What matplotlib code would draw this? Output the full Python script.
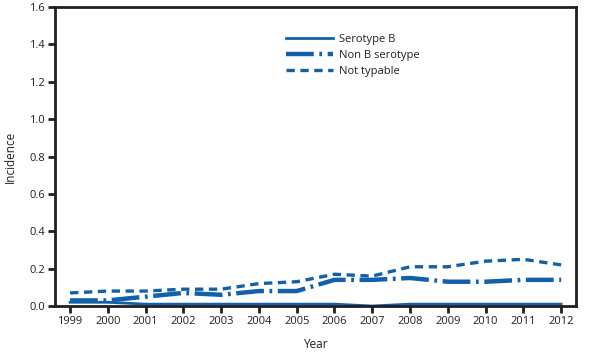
import matplotlib
matplotlib.use("Agg")
import matplotlib.pyplot as plt

years = [1999, 2000, 2001, 2002, 2003, 2004, 2005, 2006, 2007, 2008, 2009, 2010, 2011, 2012]
serotype_b = [0.02, 0.02, 0.01, 0.01, 0.01, 0.01, 0.01, 0.01, 0.00, 0.01, 0.01, 0.01, 0.01, 0.01]
non_b = [0.03, 0.03, 0.05, 0.07, 0.06, 0.08, 0.08, 0.14, 0.14, 0.15, 0.13, 0.13, 0.14, 0.14]
not_typable = [0.07, 0.08, 0.08, 0.09, 0.09, 0.12, 0.13, 0.17, 0.16, 0.21, 0.21, 0.24, 0.25, 0.22]
yticks = [0.0, 0.2, 0.4, 0.6, 0.8, 1.0, 1.2, 1.4, 1.6]

plt.rcParams['font.family'] = ['Open Sans', 'DejaVu Sans']
plt.rcParams['lines.scale_dashes'] = False
color = '#1060aa'

fig = plt.figure(figsize=(5.91, 3.55), dpi=100)
ax = fig.add_axes([0.093, 0.138, 0.882, 0.842])

ax.plot(years, serotype_b, color=color, lw=2.0, label='Serotype B')
ax.plot(years, non_b, color=color, lw=3.2, dashes=(20, 4, 2, 4), label='Non B serotype')
ax.plot(years, not_typable, color=color, lw=2.4, dashes=(6, 4), label='Not typable')

ax.set_xlim(1998.6, 2012.4)
ax.set_ylim(0, 1.6)
ax.set_xticks(years)
ax.set_yticks(yticks)
ax.set_yticklabels([f"{v:.1f}" for v in yticks])
for s in ax.spines.values():
    s.set_linewidth(2)
    s.set_color('#231f20')
ax.tick_params(direction='out', length=5, width=2, color='#231f20', labelsize=8, pad=2, labelcolor='#231f20')
ax.set_xlabel('Year', fontsize=8.5, color='#231f20', labelpad=8)
ax.set_ylabel('Incidence', fontsize=8.5, color='#231f20', labelpad=9)

leg = ax.legend(loc='upper left', bbox_to_anchor=(0.425, 0.945), frameon=False, fontsize=8,
                handlelength=4.2, handletextpad=0.5, labelspacing=0.45)
for t in leg.get_texts():
    t.set_color('#231f20')

fig.savefig('out.png', dpi=100)
